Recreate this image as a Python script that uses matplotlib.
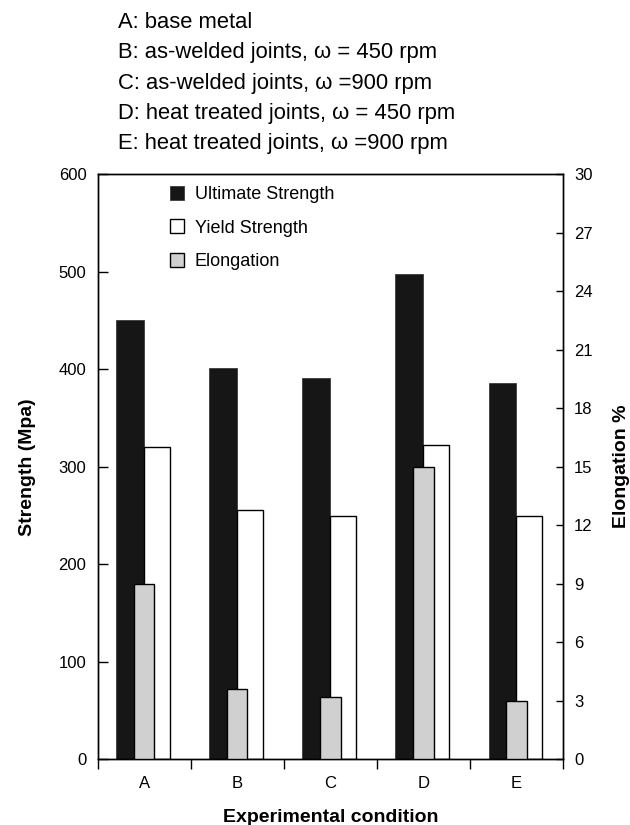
import matplotlib
matplotlib.use("Agg")
import matplotlib.pyplot as plt
import numpy as np

# Tensile test results per experimental condition
conditions = ["A", "B", "C", "D", "E"]
ultimate_strength = [450, 401, 391, 498, 386]   # MPa
yield_strength = [320, 256, 250, 322, 250]      # MPa
elongation = [9.0, 3.6, 3.2, 15.0, 3.0]         # %

strength_ticks = [0, 100, 200, 300, 400, 500, 600]
elong_ticks = [0, 3, 6, 9, 12, 15, 18, 21, 24, 27, 30]

condition_notes = [
    "A: base metal",
    "B: as-welded joints, \u03c9 = 450 rpm",
    "C: as-welded joints, \u03c9 =900 rpm",
    "D: heat treated joints, \u03c9 = 450 rpm",
    "E: heat treated joints, \u03c9 =900 rpm",
]

plt.rcParams["font.family"] = ["Liberation Sans", "DejaVu Sans"]

fig = plt.figure(figsize=(6.3, 8.25), dpi=100)
ax = fig.add_axes([0.1548, 0.0794, 0.7389, 0.7097])
ax2 = ax.twinx()

centers = np.arange(len(conditions)) + 0.5

ax.bar(centers - 0.30, ultimate_strength, width=0.30, align="edge",
       color="#161616", edgecolor="#3a3a3a", linewidth=0.6,
       label="Ultimate Strength", zorder=2)
ax.bar(centers, yield_strength, width=0.275, align="edge",
       color="white", edgecolor="black", linewidth=1.0,
       label="Yield Strength", zorder=2)
ax2.bar(centers, elongation, width=0.22, align="center",
        color="#d0d0d0", edgecolor="black", linewidth=1.0,
        label="Elongation", zorder=3)

ax.set_xlim(0, len(conditions))
ax.set_ylim(0, 600)
ax2.set_ylim(0, 30)

# category boundaries carry the tick marks, centres carry the letters
ax.set_xticks(np.arange(len(conditions) + 1))
ax.set_xticklabels([])
ax.set_xticks(centers, minor=True)
ax.set_xticklabels(conditions, minor=True)
ax.tick_params(axis="x", which="major", direction="out", length=7, width=1)
ax.tick_params(axis="x", which="minor", length=0, pad=12, labelsize=12)

ax.set_yticks(strength_ticks)
ax.tick_params(axis="y", direction="in", length=7, width=1, pad=8, labelsize=12)
ax2.set_yticks(elong_ticks)
ax2.tick_params(axis="y", direction="in", length=5, width=1, pad=8, labelsize=12)

for a in (ax, ax2):
    for s in a.spines.values():
        s.set_linewidth(1.0)

ax.set_ylabel("Strength (Mpa)", fontsize=14, fontweight="bold")
ax.yaxis.set_label_coords(-0.133, 0.5)
ax2.set_ylabel("Elongation %", fontsize=14, fontweight="bold", rotation=90)
ax2.yaxis.set_label_coords(1.108, 0.5)
ax.set_xlabel("Experimental condition", fontsize=14, fontweight="bold")
ax.xaxis.set_label_coords(0.5, -0.085)

h1, l1 = ax.get_legend_handles_labels()
h2, l2 = ax2.get_legend_handles_labels()
ax2.legend(h1 + h2, l1 + l2, loc="upper left", bbox_to_anchor=(0.155, 0.98),
           frameon=False, fontsize=13, borderpad=0, borderaxespad=0,
           handlelength=0.8, handleheight=0.8, handletextpad=0.6,
           labelspacing=0.92)

for i, note in enumerate(condition_notes):
    fig.text(118 / 630, 1 - (22 + 30.5 * i) / 825, note, ha="left", va="center",
             fontsize=15.8)

fig.savefig("out.png", dpi=100)
